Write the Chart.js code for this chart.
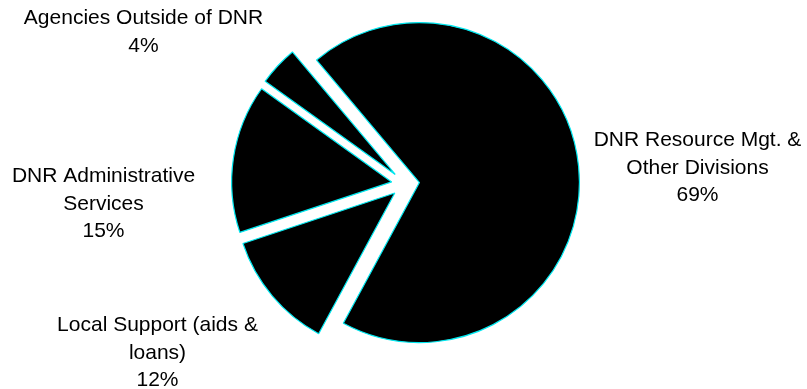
<!DOCTYPE html>
<html>
<head>
<meta charset="utf-8">
<script src="https://cdn.jsdelivr.net/npm/chart.js@4"></script>
<style>
  body { margin: 0; background: #fff; }
  #wrap { width: 807px; height: 389px; position: relative; }
</style>
</head>
<body>
<div id="wrap"><canvas id="myChart"></canvas></div>
<script>
// slice names (one entry per line of the label) and their shares
const categories = [
    ['DNR Resource Mgt. &', 'Other Divisions'],
    ['Local Support (aids &', 'loans)'],
    ['DNR Administrative', 'Services'],
    ['Agencies Outside of DNR']
];
const shares = [69, 12, 15, 4];

// where each label block sits, measured from the pie centre (first baseline)
const labelOffsets = [[292, -38], [-248, 147], [-302, -2], [-262, -160]];

const explodeDist = 14;      // every slice pulled out from the centre
const lineGap = 27.5;

// draw each arc shifted out along its bisector (Excel style exploded pie)
const explodePlugin = {
    id: 'explode',
    beforeDatasetDraw(chart, args) {
        const ctx = chart.ctx;
        args.meta.data.forEach(arc => {
            const mid = (arc.startAngle + arc.endAngle) / 2;
            ctx.save();
            ctx.translate(Math.cos(mid) * explodeDist, Math.sin(mid) * explodeDist);
            arc.draw(ctx);
            ctx.restore();
        });
        return false;
    }
};

// outside labels: name lines + rounded percent
const labelPlugin = {
    id: 'sliceLabels',
    afterDatasetsDraw(chart) {
        const ctx = chart.ctx;
        const arcs = chart.getDatasetMeta(0).data;
        const total = shares.reduce((a, b) => a + b, 0);
        ctx.save();
        ctx.font = '21px "Liberation Sans", Arial, sans-serif';
        ctx.fillStyle = '#000';
        ctx.textAlign = 'center';
        ctx.textBaseline = 'alphabetic';
        arcs.forEach((arc, i) => {
            const lines = categories[i].concat(Math.round(shares[i] / total * 100) + '%');
            const x = arc.x + labelOffsets[i][0];
            const y = arc.y + labelOffsets[i][1];
            lines.forEach((t, k) => ctx.fillText(t, x, y + k * lineGap));
        });
        ctx.restore();
    }
};

const ctx = document.getElementById('myChart');
new Chart(ctx, {
    type: 'pie',
    data: {
        labels: categories,
        datasets: [{
            data: shares,
            backgroundColor: '#000000',
            borderColor: '#00e8f0',
            borderWidth: 1.2,
            radius: 160,
            rotation: -40
        }]
    },
    options: {
        responsive: true,
        maintainAspectRatio: false,
        animation: false,
        layout: { padding: { left: 4, right: 0, top: 0, bottom: 21 } },
        plugins: {
            legend: { display: false },
            tooltip: { enabled: false }
        }
    },
    plugins: [explodePlugin, labelPlugin]
});
</script>
</body>
</html>
